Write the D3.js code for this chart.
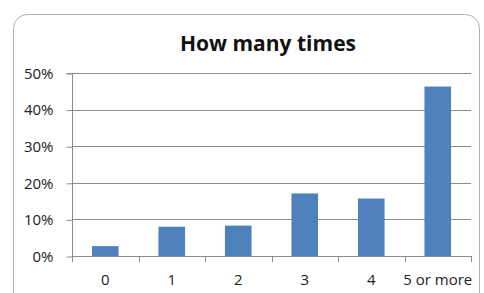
<!DOCTYPE html>
<html>
<head>
<meta charset="utf-8">
<script src="https://cdn.jsdelivr.net/npm/d3@7"></script>
<style>
  html, body { margin: 0; padding: 0; background: #fff; }
  svg { display: block; font-family: "Open Sans", sans-serif; }
</style>
</head>
<body>
<svg id="chart"></svg>
<script>
const width = 484;
const height = 293;

const categories = ["0", "1", "2", "3", "4", "5 or more"];
const shares = [2.7, 8.0, 8.3, 17.1, 15.7, 46.3];
const yTicks = [0, 10, 20, 30, 40, 50];
const title = "How many times";

const margin = { top: 73, right: 13, bottom: 37, left: 72 };

const svg = d3.select("#chart")
    .attr("width", width)
    .attr("height", height);

// chart frame, runs off the bottom/right of the picture
svg.append("rect")
    .attr("x", 13.5)
    .attr("y", 14.5)
    .attr("width", 466)
    .attr("height", 300)
    .attr("rx", 14)
    .attr("fill", "#fff")
    .attr("stroke", "#b0b0b0")
    .attr("stroke-width", 1);

const x = d3.scaleBand()
    .domain(categories)
    .range([margin.left, width - margin.right])
    .paddingInner(0.6)
    .paddingOuter(0.3);

const y = d3.scaleLinear()
    .domain([0, 50])
    .range([height - margin.bottom, margin.top]);

// gridlines
svg.append("g")
    .selectAll("line")
    .data(yTicks.filter(d => d > 0))
    .enter().append("line")
    .attr("x1", margin.left)
    .attr("x2", width - margin.right)
    .attr("y1", d => Math.round(y(d)) + 0.5)
    .attr("y2", d => Math.round(y(d)) + 0.5)
    .attr("stroke", "#8c8c8c")
    .attr("stroke-width", 1);

// bars
svg.append("g")
    .selectAll("rect")
    .data(categories.map((c, i) => ({ c, v: shares[i] })))
    .enter().append("rect")
    .attr("x", d => x(d.c))
    .attr("width", x.bandwidth())
    .attr("y", d => y(d.v))
    .attr("height", d => y(0) - y(d.v))
    .attr("fill", "#4f81bd");

// y axis
const yAxis = d3.axisLeft(y)
    .tickValues(yTicks)
    .tickFormat(d => d + "%")
    .tickSize(6)
    .tickPadding(13);

const gy = svg.append("g")
    .attr("transform", `translate(${margin.left + 0.5},0.5)`)
    .call(yAxis);
gy.select(".domain").attr("stroke", "#8c8c8c").attr("d", `M-6,${y(50)}H0V${y(0)}`);
gy.selectAll(".tick line").attr("stroke", "#8c8c8c");
gy.selectAll(".tick text")
    .attr("font-size", 15)
    .attr("fill", "#222")
    .attr("font-family", "Open Sans, sans-serif");

// x axis: ticks sit between the categories, like Excel
const step = x.step();
const boundaries = d3.range(categories.length + 1).map(i => margin.left + i * step);

const gx = svg.append("g");
gx.append("line")
    .attr("x1", margin.left)
    .attr("x2", width - margin.right)
    .attr("y1", Math.round(y(0)) + 0.5)
    .attr("y2", Math.round(y(0)) + 0.5)
    .attr("stroke", "#8c8c8c");
gx.selectAll(".xt")
    .data(boundaries)
    .enter().append("line")
    .attr("class", "xt")
    .attr("x1", d => Math.round(d) + 0.5)
    .attr("x2", d => Math.round(d) + 0.5)
    .attr("y1", Math.round(y(0)))
    .attr("y2", Math.round(y(0)) + 6)
    .attr("stroke", "#8c8c8c");
gx.selectAll("text")
    .data(categories)
    .enter().append("text")
    .attr("x", d => x(d) + x.bandwidth() / 2)
    .attr("y", 285)
    .attr("text-anchor", "middle")
    .attr("font-size", 15)
    .attr("fill", "#222")
    .text(d => d);

// title
svg.append("text")
    .attr("x", 268)
    .attr("y", 51)
    .attr("text-anchor", "middle")
    .attr("font-size", 21)
    .attr("font-weight", "bold")
    .attr("fill", "#111")
    .text(title);
</script>
</body>
</html>
